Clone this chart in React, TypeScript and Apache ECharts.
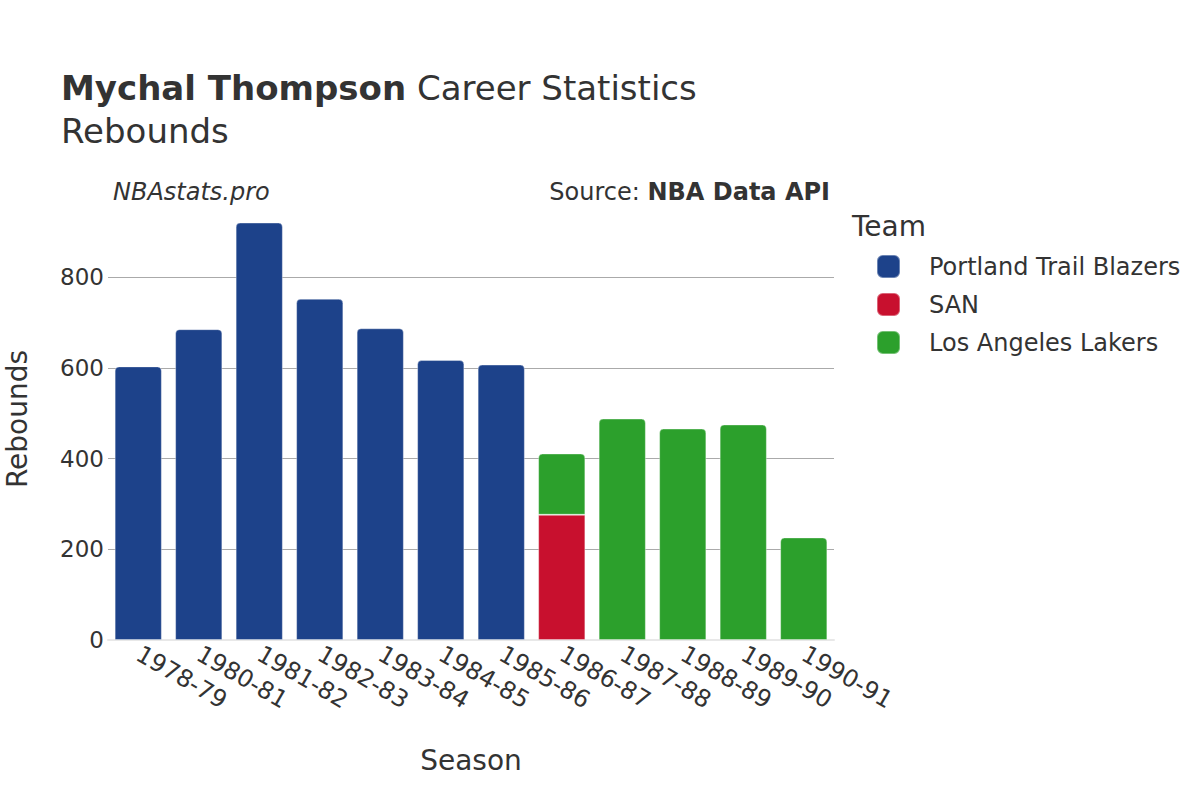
import React, { useEffect, useRef } from "react";
import * as echarts from "echarts";

const seasons = ["1978-79", "1980-81", "1981-82", "1982-83", "1983-84", "1984-85", "1985-86", "1986-87", "1987-88", "1988-89", "1989-90", "1990-91"];
const portland = [603, 685, 920, 752, 687, 617, 607, null, null, null, null, null];
const san = [null, null, null, null, null, null, null, 276, null, null, null, null];
const lakers = [null, null, null, null, null, null, null, 135, 488, 466, 475, 226];
const yTicks = [0, 200, 400, 600, 800];

const FONT = "DejaVu Sans, sans-serif";

export default function App() {
  const ref = useRef<HTMLDivElement>(null);
  useEffect(() => {
    const chart = echarts.init(ref.current!, null, { renderer: "svg" });
    const barBase = {
      type: "bar",
      stack: "total",
      clip: false,
      barCategoryGap: "22%",
    };
    chart.setOption({
      animation: false,
      textStyle: { fontFamily: FONT },
      grid: { left: 108, right: 366, top: 277, height: 363, containLabel: false },
      title: [
        {
          text: "{b|Mychal Thompson} Career Statistics",
          left: 56,
          top: 66,
          textStyle: {
            fontFamily: FONT,
            fontSize: 34,
            fontWeight: "normal",
            color: "#333",
            rich: { b: { fontFamily: FONT, fontSize: 34, fontWeight: "bold", color: "#333" } },
          },
        },
      ],
      graphic: [
        { type: "text", left: 61, top: 114, style: { text: "Rebounds", fontFamily: FONT, fontSize: 34, fill: "#333" } },
        { type: "text", left: 113, top: 180, style: { text: "NBAstats.pro", fontFamily: FONT, fontSize: 24, fontStyle: "italic", fill: "#333" } },
        {
          type: "text", right: 370, top: 180,
          style: {
            text: "Source: {b|NBA Data API}", fontFamily: FONT, fontSize: 24, fill: "#333",
            rich: { b: { fontFamily: FONT, fontSize: 24, fontWeight: "bold", fill: "#333" } },
          },
        },
        { type: "text", left: 852, top: 212, style: { text: "Team", fontFamily: FONT, fontSize: 28, fill: "#333" } },
        { type: "text", x: 471, y: 760, style: { text: "Season", fontFamily: FONT, fontSize: 28, fill: "#333", align: "center", verticalAlign: "middle" } },
        { type: "text", x: 17, y: 419, rotation: Math.PI / 2, style: { text: "Rebounds", fontFamily: FONT, fontSize: 28, fill: "#333", align: "center", verticalAlign: "middle" } },
      ],
      legend: {
        orient: "vertical",
        left: 871,
        top: 249,
        icon: "roundRect",
        itemWidth: 23,
        itemHeight: 23,
        itemGap: 13,
        textStyle: { fontFamily: FONT, fontSize: 24, color: "#333", padding: [0, 0, 0, 24] },
        data: ["Portland Trail Blazers", "SAN", "Los Angeles Lakers"],
      },
      xAxis: {
        type: "category",
        data: seasons,
        axisTick: { show: false },
        axisLine: { show: true, lineStyle: { color: "#e8e8e8", width: 2 } },
        axisLabel: { interval: 0, hideOverlap: false, rotate: -30, fontFamily: FONT, fontSize: 24, color: "#333", margin: 12 },
      },
      yAxis: {
        type: "value",
        min: yTicks[0],
        max: yTicks[yTicks.length - 1],
        interval: 200,
        axisLabel: { fontFamily: FONT, fontSize: 23, color: "#333", margin: 4, showMinLabel: true },
        splitLine: { lineStyle: { color: "#aaaaaa", width: 1 } },
        axisLine: { show: false },
        axisTick: { show: false },
      },
      series: [
        {
          ...barBase,
          name: "Portland Trail Blazers",
          data: portland,
          itemStyle: { color: "#1d428a", borderRadius: [4, 4, 0, 0], borderColor: "rgba(255,255,255,0.35)", borderWidth: 1 },
        },
        {
          ...barBase,
          name: "SAN",
          data: san,
          itemStyle: { color: "#c8102e", borderRadius: 0, borderColor: "rgba(255,255,255,0.35)", borderWidth: 1 },
        },
        {
          ...barBase,
          name: "Los Angeles Lakers",
          data: lakers,
          itemStyle: { color: "#2ca02c", borderRadius: [4, 4, 0, 0], borderColor: "rgba(255,255,255,0.35)", borderWidth: 1 },
        },
      ],
    });
    return () => chart.dispose();
  }, []);
  return <div ref={ref} style={{ width: 1200, height: 800, position: "absolute", left: 0, top: 0 }} />;
}
